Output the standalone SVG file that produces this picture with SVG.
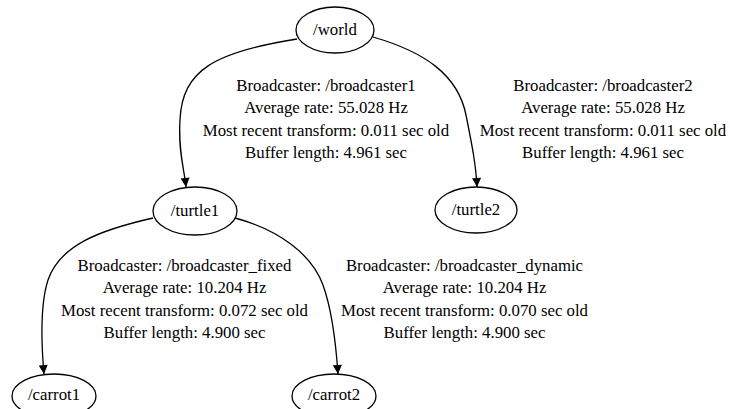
<svg xmlns="http://www.w3.org/2000/svg" width="730" height="409" viewBox="0 0 730 409">
<defs>
<style>
.node ellipse{fill:none;stroke:#000;stroke-width:1.3}
.node text{font-family:'Liberation Serif','DejaVu Serif',serif;font-size:16.8px;text-anchor:middle;fill:#000}
.edge path{fill:none;stroke:#000;stroke-width:1.3}
.lbl{font-family:'Liberation Serif','DejaVu Serif',serif;font-size:16.8px;text-anchor:middle;fill:#000}
</style>
<marker id="arr" markerUnits="userSpaceOnUse" viewBox="0 0 10 10" refX="10" refY="5" markerWidth="12" markerHeight="9" orient="auto">
<path d="M0,0 L10,5 L0,10 z" fill="#000"/>
</marker>
</defs>
<rect width="730" height="409" fill="#fff"/>
<g id="connectors" font-family="Liberation Serif, serif">
<g class="edge" id="e_world_turtle1">
<path d="M297,39 C215,52 182,70 180,120 C178,150 184,168 186,187" marker-end="url(#arr)"/>
<text class="lbl"><tspan x="326" y="91">Broadcaster: /broadcaster1</tspan><tspan x="326" y="113">Average rate: 55.028 Hz</tspan><tspan x="326" y="135.5">Most recent transform: 0.011 sec old</tspan><tspan x="326" y="157.5">Buffer length: 4.961 sec</tspan></text>
</g>
<g class="edge" id="e_world_turtle2">
<path d="M373,37 C425,52 458,75 466,115 C472,145 476,165 477,187" marker-end="url(#arr)"/>
<text class="lbl"><tspan x="603" y="91">Broadcaster: /broadcaster2</tspan><tspan x="603" y="113">Average rate: 55.028 Hz</tspan><tspan x="603" y="135.5">Most recent transform: 0.011 sec old</tspan><tspan x="603" y="157.5">Buffer length: 4.961 sec</tspan></text>
</g>
<g class="edge" id="e_turtle1_carrot1">
<path d="M153,218 C100,230 60,245 48,280 C40,305 41,340 44,374" marker-end="url(#arr)"/>
<text class="lbl"><tspan x="184.5" y="271">Broadcaster: /broadcaster_fixed</tspan><tspan x="184.5" y="293">Average rate: 10.204 Hz</tspan><tspan x="184.5" y="315.5">Most recent transform: 0.072 sec old</tspan><tspan x="184.5" y="337.5">Buffer length: 4.900 sec</tspan></text>
</g>
<g class="edge" id="e_turtle1_carrot2">
<path d="M235,218 C280,230 312,255 323,285 C332,310 336,345 338,374" marker-end="url(#arr)"/>
<text class="lbl"><tspan x="464.5" y="271">Broadcaster: /broadcaster_dynamic</tspan><tspan x="464.5" y="293">Average rate: 10.204 Hz</tspan><tspan x="464.5" y="315.5">Most recent transform: 0.070 sec old</tspan><tspan x="464.5" y="337.5">Buffer length: 4.900 sec</tspan></text>
</g>
</g>
<g class="node" id="world"><ellipse cx="335" cy="30" rx="39" ry="23"/><text x="335" y="35">/world</text></g>
<g class="node" id="turtle1"><ellipse cx="195" cy="211" rx="42" ry="24"/><text x="195" y="216">/turtle1</text></g>
<g class="node" id="turtle2"><ellipse cx="476" cy="210" rx="41" ry="23"/><text x="476" y="215">/turtle2</text></g>
<g class="node" id="carrot1"><ellipse cx="54" cy="396" rx="42" ry="22"/><text x="54" y="400">/carrot1</text></g>
<g class="node" id="carrot2"><ellipse cx="334" cy="396" rx="42" ry="22"/><text x="334" y="400">/carrot2</text></g>
</svg>
